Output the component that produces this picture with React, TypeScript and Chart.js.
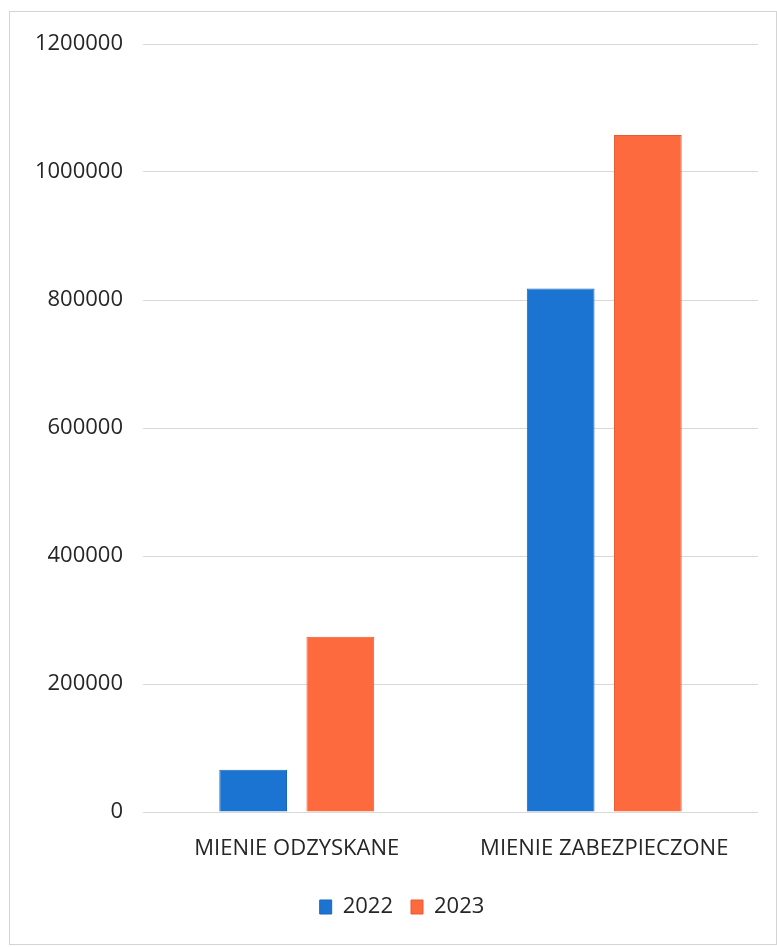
import React, { useEffect, useRef } from "react";
import { Chart, registerables } from "chart.js";

Chart.register(...registerables);

const categories = ["MIENIE ODZYSKANE", "MIENIE ZABEZPIECZONE"];
const seriesLabels = ["2022", "2023"];
const values2022 = [66000, 818000];
const values2023 = [274000, 1058000];
const yTicks = [0, 200000, 400000, 600000, 800000, 1000000, 1200000];

const FONT = "'Open Sans', 'Noto Sans', sans-serif";
const TEXT = "#262626";

const frame = {
  id: "frame",
  afterLayout(chart: any) {
    if (chart.legend) {
      chart.legend.left += 23;
      chart.legend.right += 23;
    }
  },
  beforeDraw(chart: any) {
    const { ctx, width, height } = chart;
    ctx.save();
    ctx.fillStyle = "#ffffff";
    ctx.fillRect(0, 0, width, height);
    ctx.strokeStyle = "#d4d4d4";
    ctx.lineWidth = 1;
    ctx.strokeRect(9.5, 11.5, width - 10, height - 14);
    ctx.restore();
  },
};

export default function App() {
  const ref = useRef<HTMLCanvasElement | null>(null);
  useEffect(() => {
    if (!ref.current) return;
    const chart = new Chart(ref.current, {
      type: "bar",
      data: {
        labels: categories,
        datasets: [
          {
            label: seriesLabels[0],
            data: values2022,
            backgroundColor: "#1c74d2",
            borderColor: "#1766bb",
            borderWidth: 1,
          },
          {
            label: seriesLabels[1],
            data: values2023,
            backgroundColor: "#fd6a3d",
            borderColor: "#e85a30",
            borderWidth: 1,
          },
        ],
      },
      options: {
        animation: false,
        responsive: false,
        maintainAspectRatio: false,
        datasets: {
          bar: { categoryPercentage: 0.567, barPercentage: 0.777 },
        },
        layout: { padding: { top: 44, right: 19, bottom: 19, left: 0 } },
        plugins: {
          tooltip: { enabled: false },
          legend: {
            position: "bottom",
            labels: {
              font: { family: FONT, size: 22 },
              color: TEXT,
              boxWidth: 12,
              boxHeight: 14,
              padding: 18,
            },
          },
        },
        scales: {
          x: {
            grid: { display: false, drawTicks: false },
            border: { display: false },
            ticks: {
              font: { family: FONT, size: 22 },
              color: TEXT,
              padding: 24,
              maxRotation: 0,
            },
            afterFit(scale: any) {
              scale.height = 66;
            },
          },
          y: {
            min: 0,
            max: 1200000,
            grid: { color: "#d9d9d9", lineWidth: 1, drawTicks: false },
            border: { display: false },
            afterBuildTicks(scale: any) {
              scale.ticks = yTicks.map((v) => ({ value: v }));
            },
            ticks: {
              font: { family: FONT, size: 22 },
              color: TEXT,
              padding: 20,
              callback: (v: any) => String(v),
            },
            afterFit(scale: any) {
              scale.width = 143;
            },
          },
        },
      },
      plugins: [frame],
    });
    return () => chart.destroy();
  }, []);
  return (
    <div style={{ position: "absolute", left: 0, top: 0, width: 777, height: 947 }}>
      <canvas ref={ref} width={777} height={947} style={{ display: "block" }} />
    </div>
  );
}
